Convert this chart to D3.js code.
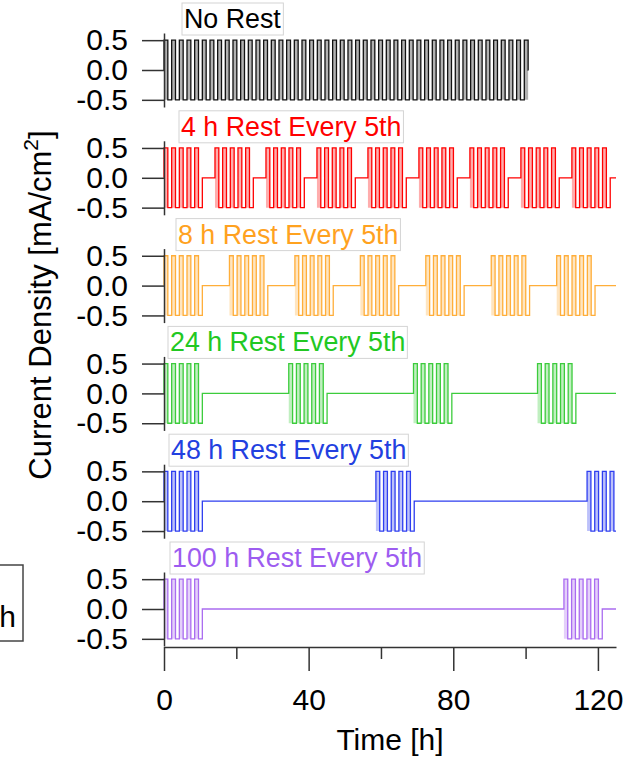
<!DOCTYPE html>
<html>
<head>
<meta charset="utf-8">
<script src="https://cdn.jsdelivr.net/npm/d3@7"></script>
<style>
  body { margin: 0; background: #fff; }
  svg { display: block; font-family: "Liberation Sans", Arial, sans-serif; }
</style>
</head>
<body>
<svg id="chart" width="626" height="757"></svg>
<script>
"use strict";

// panel titles and colours, top to bottom
var panelNames = ["No Rest", "4 h Rest Every 5th", "8 h Rest Every 5th",
                  "24 h Rest Every 5th", "48 h Rest Every 5th", "100 h Rest Every 5th"];
var lineColors = ["#111111", "#ff0000", "#ffae3a", "#3ccc3c", "#2e3ef0", "#aa6cf0"];
var textColors = ["#000000", "#ff0000", "#ffa21f", "#22c822", "#2240e0", "#9d5cf0"];

// cycling protocol: +0.5 / -0.5 mA/cm2 half cycles
var halfCycleHours = 1.06;
var levels = [0.5, -0.5];

// block start times [h] and half cycles per block, per panel
var blockStarts = [
    [0],
    [0, 14.1, 28.2, 42.3, 56.4, 70.5, 84.6, 98.7, 112.8],
    [0, 18.1, 36.2, 54.3, 72.4, 90.5, 108.6],
    [0, 34.5, 69.0, 103.3],
    [0, 58.6, 117.0],
    [0, 110.6]
];
var blockHalfCycles = [95, 10, 10, 10, 10, 10];
var endHours = [100.8, 125, 125, 125, 125, 125];

var yTicks = [0.5, 0.0, -0.5];
var xMajorTicks = [0, 40, 80, 120];
var xMinorTicks = [20, 60, 100];

// layout
var firstZero = 70, panelStep = 107.8, halfHeight = 37;
var labelX = [184, 181, 178, 170, 171, 172];

var svg = d3.select("#chart");

var x = d3.scaleLinear().domain([0, 125]).range([164, 616]);

function buildSteps(starts, halves, end) {
    var pts = [[0, 0]];
    starts.forEach(function (s) {
        for (var k = 0; k < halves; k++) {
            pts.push([s + k * halfCycleHours, levels[k % 2]]);
        }
        pts.push([s + halves * halfCycleHours, 0]);
    });
    var kept = pts.filter(function (p) { return p[0] <= end; });
    kept.push([end, kept[kept.length - 1][1]]);
    return kept;
}

panelNames.forEach(function (name, i) {
    var zero = firstZero + i * panelStep;
    var y = d3.scaleLinear().domain([-0.62, 0.62]).range([zero + halfHeight, zero - halfHeight]);
    var steps = buildSteps(blockStarts[i], blockHalfCycles[i], endHours[i]);

    var g = svg.append("g");

    // pale fill under the charge half cycles
    g.append("path")
        .datum(steps)
        .attr("fill", lineColors[i])
        .attr("fill-opacity", 0.32)
        .attr("d", d3.area()
            .curve(d3.curveStepAfter)
            .x(function (d) { return x(d[0]); })
            .y0(y(-0.5))
            .y1(function (d) { return d[1] > 0 ? y(d[1]) : y(-0.5); }));

    g.append("path")
        .datum(steps)
        .attr("fill", "none")
        .attr("stroke", lineColors[i])
        .attr("stroke-width", 1.3)
        .attr("d", d3.line()
            .curve(d3.curveStepAfter)
            .x(function (d) { return x(d[0]); })
            .y(function (d) { return y(d[1]); }));

    var axis = g.append("g")
        .attr("transform", "translate(" + x(0) + ",0)")
        .call(d3.axisLeft(y)
            .tickValues(yTicks)
            .tickSize(22)
            .tickSizeOuter(0)
            .tickPadding(14)
            .tickFormat(function (d) { return d.toFixed(1); }));
    axis.select(".domain").attr("stroke", "#333").attr("stroke-width", 1.5);
    axis.selectAll(".tick line").attr("stroke", "#333").attr("stroke-width", 1.5);
    axis.selectAll(".tick text")
        .attr("fill", "#000")
        .style("font-size", "30px")
        .style("font-family", "'Liberation Sans', Arial, sans-serif");

    // title with its box
    var box = g.append("rect");
    var label = g.append("text")
        .attr("x", labelX[i])
        .attr("y", zero - 42)
        .attr("fill", textColors[i])
        .style("font-size", "26.8px")
        .text(name);
    var bb = label.node().getBBox();
    box.attr("x", bb.x - 2)
        .attr("y", bb.y - 1)
        .attr("width", bb.width + 4)
        .attr("height", bb.height + 2)
        .attr("fill", "#fff")
        .attr("stroke", "#d4d4d4")
        .attr("stroke-width", 1);
});

// time axis
var axisY = 647;
var major = svg.append("g")
    .attr("transform", "translate(0," + axisY + ")")
    .call(d3.axisBottom(x)
        .tickValues(xMajorTicks)
        .tickSize(24)
        .tickSizeOuter(0)
        .tickPadding(18)
        .tickFormat(d3.format("d")));
major.select(".domain").attr("stroke", "#333").attr("stroke-width", 1.5);
major.selectAll(".tick line").attr("stroke", "#333").attr("stroke-width", 1.5);
major.selectAll(".tick text")
    .attr("fill", "#000")
    .style("font-size", "30px")
    .style("font-family", "'Liberation Sans', Arial, sans-serif");

var minor = svg.append("g")
    .attr("transform", "translate(0," + axisY + ")")
    .call(d3.axisBottom(x)
        .tickValues(xMinorTicks)
        .tickSize(12)
        .tickSizeOuter(0)
        .tickFormat(""));
minor.select(".domain").remove();
minor.selectAll(".tick line").attr("stroke", "#333").attr("stroke-width", 1.5);

svg.append("text")
    .attr("x", (x(0) + x(125)) / 2)
    .attr("y", 750)
    .attr("text-anchor", "middle")
    .style("font-size", "30px")
    .text("Time [h]");

var yTitle = svg.append("text")
    .attr("transform", "translate(51,305) rotate(-90)")
    .attr("text-anchor", "middle")
    .style("font-size", "31px");
yTitle.append("tspan").text("Current Density [mA/cm");
yTitle.append("tspan").attr("dy", -13).style("font-size", "21px").text("2");
yTitle.append("tspan").attr("dy", 13).text("]");

// clipped legend box at the left edge
svg.append("rect")
    .attr("x", -40).attr("y", 565).attr("width", 63).attr("height", 76)
    .attr("fill", "#fff").attr("stroke", "#444").attr("stroke-width", 1.5);
svg.append("text")
    .attr("x", 16).attr("y", 627)
    .attr("text-anchor", "end")
    .style("font-size", "30px")
    .text("h");
</script>
</body>
</html>
